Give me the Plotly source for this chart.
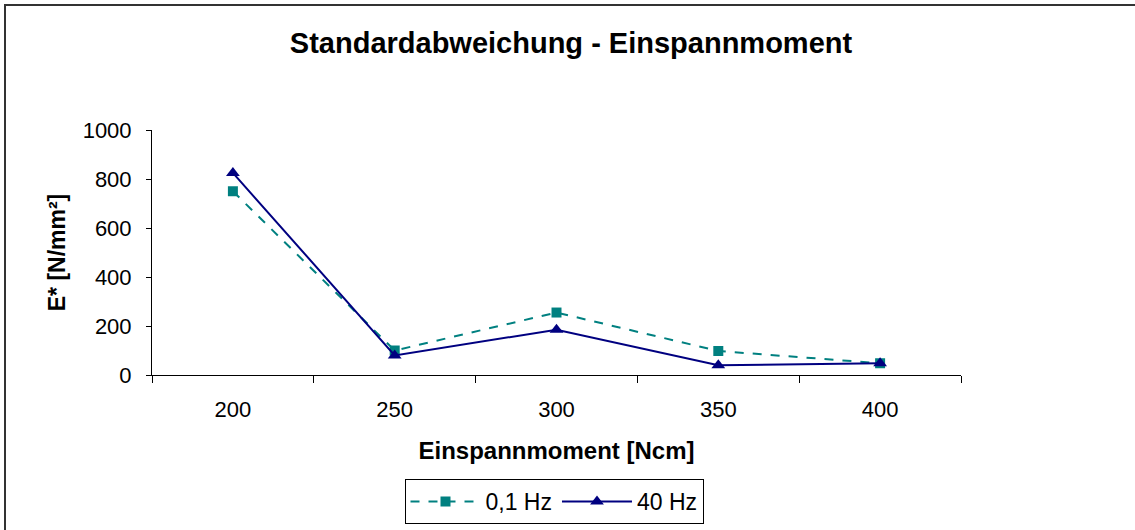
import plotly.graph_objects as go

# Einspannmoment categories and standard deviation of E* per test frequency
categories = ["200", "250", "300", "350", "400"]
std_01hz = [750, 100, 255, 98, 48]
std_40hz = [825, 80, 185, 40, 48]

FONT = "Liberation Sans, Arial, sans-serif"

fig = go.Figure()
fig.add_trace(go.Scatter(
    x=categories, y=std_01hz, name="0,1 Hz", mode="lines+markers",
    line=dict(color="#008080", width=2, dash="dash"),
    marker=dict(symbol="square", size=10, color="#008080"),
))
fig.add_trace(go.Scatter(
    x=categories, y=std_40hz, name="40 Hz", mode="lines+markers",
    line=dict(color="#000080", width=2),
    marker=dict(symbol="triangle-up", size=12, color="#000080"),
))

L, R, T, B = 152, 174, 130, 155
W, H = 1135, 530
pw, ph = W - L - R, H - T - B

def px_x(x):
    return (x - L) / pw

def px_y(y):
    return (H - B - y) / ph

fig.update_layout(
    width=W, height=H,
    margin=dict(l=L, r=R, t=T, b=B, autoexpand=False),
    paper_bgcolor="white", plot_bgcolor="white",
    font=dict(family=FONT, size=22, color="black"),
    title=dict(text="<b>Standardabweichung - Einspannmoment</b>",
               x=571 / W, xanchor="center", y=1 - 43 / H, yanchor="middle",
               font=dict(size=29, family=FONT)),
    showlegend=True,
    legend=dict(orientation="h", x=px_x(554), xanchor="center",
                y=px_y(479), yanchor="top",
                bordercolor="black", borderwidth=1, bgcolor="white",
                font=dict(size=23), itemwidth=70),
    shapes=[dict(type="rect", xref="paper", yref="paper",
                 x0=px_x(5), x1=px_x(1145), y0=px_y(540), y1=px_y(5),
                 line=dict(color="#333333", width=2), layer="below")],
)

fig.update_xaxes(
    type="category", tickson="boundaries", ticks="outside", ticklen=7,
    tickcolor="black", showline=True, linecolor="black", linewidth=1,
    showgrid=False, zeroline=False, range=[-0.5, 4.5], automargin=False,
    tickfont=dict(size=22), ticklabelstandoff=15,
    title=dict(text="<b>Einspannmoment [Ncm]</b>", font=dict(size=24), standoff=20),
)
fig.update_yaxes(
    range=[0, 1000], dtick=200, ticks="outside", ticklen=5,
    tickcolor="black", showline=True, linecolor="black", linewidth=1,
    showgrid=False, zeroline=False, automargin=False,
    tickfont=dict(size=22), ticklabelstandoff=10,
    title=dict(text="<b>E* [N/mm²]</b>", font=dict(size=23), standoff=10),
)

fig.write_html("out.html")
